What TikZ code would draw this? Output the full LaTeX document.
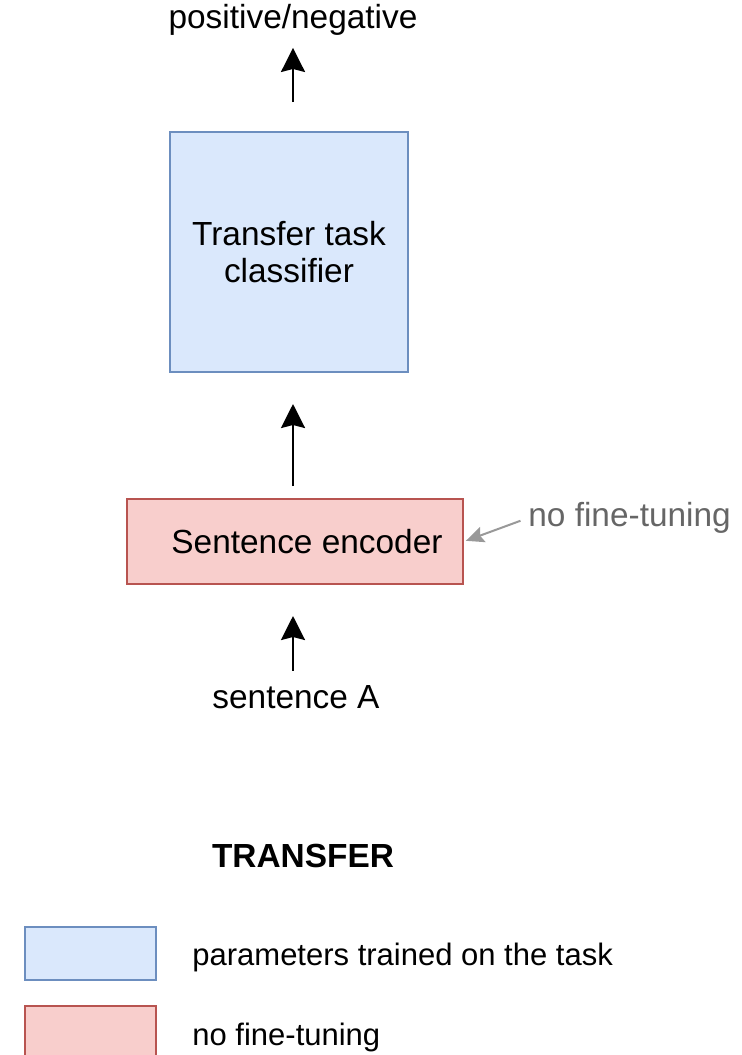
\documentclass[tikz,border=0pt]{standalone}
\usepackage{fontspec}
\setmainfont{Liberation Sans}
\usepackage{xcolor}
\usepackage{tikz}
\usetikzlibrary{positioning, calc, arrows.meta}
\definecolor{tfBlue}{HTML}{DAE8FC}
\definecolor{tfBlueLine}{HTML}{6C8EBF}
\definecolor{tfRed}{HTML}{F8CECC}
\definecolor{tfRedLine}{HTML}{B85450}
\definecolor{tfGray}{HTML}{666666}
\definecolor{tfArrow}{HTML}{999999}
\tikzset{
    base/.style={
        font=\fontsize{16.7}{18.5}\selectfont,
        align=center,
        inner sep=0pt
    },
    trained/.style={
        base,
        rectangle,
        draw=tfBlueLine,
        line width=1pt,
        fill=tfBlue
    },
    frozen/.style={
        base,
        rectangle,
        draw=tfRedLine,
        line width=1pt,
        fill=tfRed
    },
    flow/.style={
        -{Stealth[length=12pt, width=12pt, inset=1.5pt]},
        line width=1.2pt,
        color=black
    },
    hint/.style={
        -{Stealth[length=9pt, width=8pt, inset=1.5pt]},
        line width=1pt,
        color=tfArrow
    },
    label/.style={
        base,
        text=black
    },
    keytext/.style={
        base,
        font=\fontsize{15.5}{18}\selectfont,
        anchor=west
    }
}

\begin{document}
\begin{tikzpicture}[x=0.5pt, y=-0.5pt]
  \useasboundingbox (0,0) rectangle (742,1055);

  \node[label] (out) at (293,20) {positive/negative};
  \node[trained, minimum width=119pt, minimum height=120pt] (clf) at (289,252) {Transfer task\\classifier};
  \node[frozen, minimum width=168pt, minimum height=42.5pt] (enc) at (295,541.5) {\hspace*{12pt}Sentence encoder};
  \node[label] (inp) at (296,697) {sentence A};
  \node[label, text=tfGray, anchor=west] (note) at (528,518) {no fine-tuning};

  \draw[flow, shorten <=14.5pt, shorten >=6pt] (clf.north -| out) -- (out.south);
  \draw[flow, shorten <=6pt, shorten >=15.5pt] (enc.north -| out) -- (clf.south -| out);
  \draw[flow, shorten <=7pt, shorten >=15.5pt] (inp.north -| out) -- (enc.south -| out);
  \draw[hint, shorten <=4pt, shorten >=1pt] (note.west) -- (enc.east);

  % legend
  \node[label, font=\fontsize{16.7}{20}\selectfont\bfseries] (legend) at (303,856) {TRANSFER};
  \node[trained, minimum width=65.5pt, minimum height=26.5pt] (keyA) at (90.5,953.5) {};
  \node[frozen, minimum width=65.5pt, minimum height=26.5pt] (keyB) at (90.5,1032.5) {};
  \node[keytext] (keyAtext) at (192,957) {parameters trained on the task};
  \node[keytext] (keyBtext) at (192,1037) {no fine-tuning};
\end{tikzpicture}
\end{document}
